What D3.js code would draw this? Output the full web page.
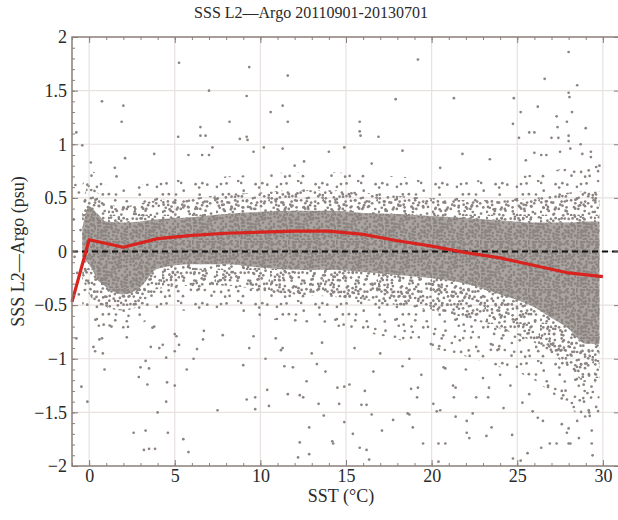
<!DOCTYPE html>
<html>
<head>
<meta charset="utf-8">
<script src="https://cdn.jsdelivr.net/npm/d3@7"></script>
<style>
  body { margin: 0; background: #fff; }
  svg { display: block; }
  text { font-family: "Liberation Serif", "DejaVu Serif", serif; }
</style>
</head>
<body>
<div id="chart"></div>
<script>
// SSS L2 - Argo differences vs SST

const titleText = "SSS L2\u2014Argo 20110901-20130701";
const xLabel = "SST (\u00b0C)";
const yLabel = "SSS L2\u2014Argo (psu)";

const xTicks = [0, 5, 10, 15, 20, 25, 30];
const yTicks = [-2, -1.5, -1, -0.5, 0, 0.5, 1, 1.5, 2];

// mean difference per SST bin (red line)
const meanSst  = [-1, 0, 2, 4, 6, 8, 10, 12, 14, 16, 18, 20, 22, 24, 26, 28, 30];
const meanDiff = [-0.47, 0.11, 0.04, 0.12, 0.15, 0.17, 0.18, 0.19, 0.19, 0.16, 0.10, 0.05, -0.01, -0.06, -0.13, -0.20, -0.235];

// envelope of the point cloud per SST bin (dense core / mid / outer halo)
const bandSst = [-0.4, 0, 0.5, 1, 2, 3, 4, 6, 8, 10, 12, 14, 16, 18, 20, 22, 24, 26, 27, 28, 29, 29.8];
const coreHi  = [0.22, 0.42, 0.35, 0.28, 0.27, 0.28, 0.30, 0.32, 0.35, 0.37, 0.38, 0.38, 0.36, 0.35, 0.33, 0.31, 0.29, 0.27, 0.27, 0.27, 0.28, 0.28];
const coreLo  = [-0.05, -0.12, -0.26, -0.33, -0.40, -0.33, -0.16, -0.12, -0.12, -0.15, -0.17, -0.17, -0.19, -0.22, -0.25, -0.30, -0.40, -0.52, -0.62, -0.72, -0.86, -0.86];
const midHi   = [0.45, 0.62, 0.55, 0.45, 0.42, 0.45, 0.48, 0.50, 0.53, 0.55, 0.57, 0.57, 0.55, 0.52, 0.50, 0.48, 0.48, 0.50, 0.52, 0.55, 0.56, 0.56];
const midLo   = [-0.25, -0.40, -0.48, -0.52, -0.55, -0.50, -0.35, -0.32, -0.32, -0.36, -0.40, -0.42, -0.45, -0.50, -0.55, -0.62, -0.72, -0.85, -0.95, -1.08, -1.22, -1.22];
const haloHi  = [0.62, 0.75, 0.72, 0.62, 0.58, 0.62, 0.65, 0.68, 0.70, 0.72, 0.74, 0.74, 0.72, 0.70, 0.68, 0.66, 0.68, 0.72, 0.75, 0.78, 0.80, 0.80];
const haloLo  = [-0.50, -0.62, -0.70, -0.72, -0.72, -0.68, -0.58, -0.55, -0.56, -0.62, -0.66, -0.70, -0.75, -0.82, -0.90, -0.98, -1.08, -1.20, -1.32, -1.45, -1.55, -1.55];

// isolated points outside the cloud [sst, diff]
const outliers = [
  [5.25, 1.76], [9.35, 1.72], [11.6, 1.64], [7.0, 1.50], [9.2, 1.45], [0.75, 1.40], [2.0, 1.36],
  [11.3, 1.36], [10.6, 1.30], [1.9, 1.21], [8.2, 1.21], [11.6, 1.21], [6.5, 1.16], [6.5, 1.08],
  [6.8, 1.08], [5.2, 1.07], [8.8, 1.05], [9.2, 1.07], [9.25, 1.04], [-0.75, 1.11], [-0.4, 0.99],
  [7.2, 0.97], [10.2, 0.97], [11.3, 0.96], [0.1, 0.83], [2.1, 0.87], [3.8, 0.91], [5.8, 0.90],
  [6.6, 0.90], [7.0, 0.90], [9.6, 0.93], [14.0, 0.93], [12.55, 0.84], [1.5, 0.78], [-0.8, 0.62],
  [-0.6, 0.55], [-0.9, 0.30], [-0.5, 0.20], [-0.7, -0.20], [-0.6, -0.40], [-0.85, -0.05],
  [19.2, 1.79], [28.0, 1.86], [26.6, 1.61], [28.5, 1.55], [17.9, 1.42], [21.3, 1.43], [24.8, 1.43],
  [28.0, 1.48], [28.05, 1.44], [26.2, 1.35], [25.2, 1.30], [28.2, 1.30], [15.8, 1.21], [15.8, 1.12],
  [15.85, 1.08], [16.9, 1.07], [24.75, 1.19], [25.7, 1.11], [26.0, 1.11], [27.3, 1.26], [27.35, 1.16],
  [25.1, 1.06], [27.0, 1.06], [27.4, 1.06], [27.9, 1.21], [29.0, 1.15], [28.0, 1.08], [28.0, 1.03],
  [14.9, 0.97], [18.3, 0.94], [21.8, 0.91], [28.7, 1.00], [28.1, 0.96], [26.0, 0.92], [26.4, 0.90],
  [26.7, 0.90], [27.5, 0.93], [28.8, 0.91], [29.3, 0.93], [29.3, 0.88], [29.8, 0.80], [23.4, 0.86],
  [-0.45, -1.26], [-0.1, -1.40], [-0.75, -0.81], [0.25, -0.89], [0.35, -0.93], [0.6, -0.82],
  [0.75, -0.81], [0.8, -0.95], [0.9, -1.10], [2.2, -0.80], [1.2, -0.69], [2.3, -0.60], [3.0, -1.08],
  [3.3, -1.02], [3.5, -1.09], [2.9, -1.17], [3.4, -1.24], [4.0, -1.50], [2.6, -1.69], [3.3, -1.67],
  [3.2, -1.85], [3.5, -1.84], [3.85, -1.84], [3.7, -0.71], [3.8, -0.70], [3.6, -0.89], [4.1, -0.90],
  [4.3, -0.87], [4.5, -0.99], [4.55, -1.22], [4.5, -1.40], [4.6, -1.69], [5.0, -0.77], [5.1, -0.79],
  [5.25, -0.87], [5.0, -0.93], [5.0, -1.25], [5.5, -1.75], [5.8, -1.87], [5.7, -1.10], [6.1, -1.00],
  [6.3, -0.91], [6.7, -0.74], [6.65, -0.82], [7.5, -1.48], [7.8, -0.78], [9.0, -1.06], [9.2, -1.38],
  [9.7, -1.36], [9.7, -1.47], [9.35, -0.90], [9.6, -0.79], [10.3, -1.00], [10.4, -1.29], [10.5, -1.44],
  [10.9, -0.81], [11.2, -0.92], [11.3, -0.90], [11.4, -1.07], [11.6, -1.33], [11.9, -1.08],
  [12.3, -1.34], [12.5, -1.36], [12.3, -1.78], [12.85, -1.64], [12.85, -1.89], [12.2, -1.92],
  [12.7, -1.21], [13.4, -1.42], [13.7, -1.53], [13.0, -0.95], [13.3, -1.05], [13.6, -0.85],
  [13.8, -1.12], [14.2, -1.77], [14.25, -1.79], [14.5, -1.27], [14.9, -1.26], [15.2, -1.24],
  [14.6, -1.42], [14.9, -1.59], [15.4, -1.70], [15.8, -1.83], [16.2, -1.85], [16.35, -1.94],
  [16.1, -1.30], [15.9, -1.43], [16.2, -1.43], [16.5, -1.52], [17.1, -1.67], [17.75, -1.57],
  [18.3, -1.07], [18.7, -1.00], [18.6, -1.51], [18.7, -1.52], [18.9, -1.64], [19.5, -1.79],
  [18.8, -1.28], [19.2, -1.27], [19.15, -1.36], [19.4, -1.15], [20.1, -1.42], [20.3, -1.49],
  [20.5, -1.48], [20.4, -1.79], [20.8, -1.79], [20.4, -1.96], [20.7, -1.08], [20.8, -1.09],
  [21.25, -1.25], [21.4, -1.27], [21.3, -1.36], [21.4, -1.54], [22.05, -1.58], [22.05, -1.69],
  [22.2, -1.74], [22.4, -1.51], [22.6, -1.36], [23.0, -1.18], [23.35, -1.27], [23.3, -1.36],
  [23.5, -1.64], [23.2, -1.72], [24.2, -1.46], [24.7, -1.71], [24.75, -1.93], [25.3, -1.41],
  [25.7, -1.33], [25.9, -1.49], [25.2, -1.95], [25.6, -1.88], [26.2, -1.55], [26.5, -1.58],
  [26.4, -1.83], [26.9, -1.79], [27.3, -1.79], [27.6, -1.61], [27.9, -1.69], [28.0, -1.65],
  [28.0, -1.79], [28.1, -1.79], [28.5, -1.58], [28.6, -1.74], [29.35, -1.79], [29.4, -1.90],
  [29.35, -1.67], [27.6, -1.30], [27.9, -1.38], [28.3, -1.45], [28.9, -1.40], [29.1, -1.32],
  [29.2, -1.50], [26.8, -1.25], [24.0, -1.15], [17.0, -0.95], [15.5, -0.90], [16.6, -1.12],
  [22.0, -1.10], [24.6, -1.25], [1.6, 0.70], [12.0, 0.80], [16.5, 0.82], [20.5, 0.78], [25.5, 0.85]
];

const width = 618;
const height = 520;
const margin = { top: 37, right: -2, bottom: 54, left: 72 };

const svg = d3.select("#chart")
  .append("svg")
  .attr("width", width)
  .attr("height", height);

const x = d3.scaleLinear()
  .domain([-1, 31])
  .range([margin.left, width - margin.right]);

const y = d3.scaleLinear()
  .domain([-2, 2])
  .range([height - margin.bottom, margin.top]);

const dotColor = "#8a8380";
const frameColor = "#8a7f7a";
const serif = "'Liberation Serif', 'DejaVu Serif', serif";

// speckle textures standing in for the dense cloud of individual points:
// a jittered grid inside each tile (hash-based offsets, purely a fill style)
const defs = svg.append("defs");
function jitter(i, k) {
  const s = Math.sin(i * 127.1 + k * 311.7) * 43758.5453;
  return s - Math.floor(s);
}
function speckle(id, size, cell, keep, bg) {
  const p = defs.append("pattern")
    .attr("id", id)
    .attr("patternUnits", "userSpaceOnUse")
    .attr("width", size)
    .attr("height", size);
  if (bg) p.append("rect").attr("width", size).attr("height", size).attr("fill", bg);
  const n = Math.round(size / cell);
  let idx = 0;
  for (let r = 0; r < n; r++) {
    for (let c = 0; c < n; c++) {
      idx++;
      if (jitter(idx, 3) > keep) continue;
      const cx = (c + 0.1 + 0.8 * jitter(idx, 1)) * cell;
      const cy = (r + 0.1 + 0.8 * jitter(idx, 2)) * cell;
      p.append("circle").attr("cx", cx).attr("cy", cy).attr("r", 1.35).attr("fill", dotColor);
    }
  }
}
speckle("core", 48, 3, 0.9, "#aaa4a1");
speckle("mid", 54, 4.2, 0.75, null);
speckle("halo", 60, 6, 0.55, null);

// grid
svg.append("g")
  .selectAll("line")
  .data(xTicks)
  .join("line")
  .attr("x1", d => x(d)).attr("x2", d => x(d))
  .attr("y1", y(2)).attr("y2", y(-2))
  .attr("stroke", "#e7e1e0")
  .attr("stroke-width", 1.2);

svg.append("g")
  .selectAll("line")
  .data(yTicks.slice(1, -1))
  .join("line")
  .attr("x1", x(-1)).attr("x2", x(31))
  .attr("y1", d => y(d)).attr("y2", d => y(d))
  .attr("stroke", "#e7e1e0")
  .attr("stroke-width", 1.2);

// point cloud bands
const bandRows = bandSst.map((s, i) => ({
  s, coreHi: coreHi[i], coreLo: coreLo[i], midHi: midHi[i], midLo: midLo[i],
  haloHi: haloHi[i], haloLo: haloLo[i]
}));

function band(hiKey, loKey) {
  return d3.area()
    .curve(d3.curveMonotoneX)
    .x(d => x(d.s))
    .y0(d => y(d[loKey]))
    .y1(d => y(d[hiKey]));
}

const cloud = svg.append("g");
cloud.append("path").datum(bandRows).attr("d", band("haloHi", "haloLo")).attr("fill", "url(#halo)");
cloud.append("path").datum(bandRows).attr("d", band("midHi", "midLo")).attr("fill", "url(#mid)");
cloud.append("path").datum(bandRows).attr("d", band("coreHi", "coreLo")).attr("fill", "url(#core)");

cloud.selectAll("circle")
  .data(outliers)
  .join("circle")
  .attr("cx", d => x(d[0]))
  .attr("cy", d => y(d[1]))
  .attr("r", 1.35)
  .attr("fill", dotColor);

// zero line
svg.append("line")
  .attr("x1", x(-1)).attr("x2", x(31))
  .attr("y1", y(0)).attr("y2", y(0))
  .attr("stroke", "#111")
  .attr("stroke-width", 2)
  .attr("stroke-dasharray", "6,4");

// mean line
const line = d3.line()
  .x((d, i) => x(meanSst[i]))
  .y(d => y(d));

svg.append("path")
  .datum(meanDiff)
  .attr("fill", "none")
  .attr("stroke", "#d8231f")
  .attr("stroke-width", 3.2)
  .attr("stroke-linejoin", "round")
  .attr("d", line);

// axes with inward ticks
const xMinor = d3.range(-1, 32, 1);
const yMinor = d3.range(-20, 21).map(v => v / 10);

function styleAxis(g) {
  g.attr("font-family", serif).attr("font-size", 18);
  g.select(".domain").remove();
  g.selectAll(".tick line").attr("stroke", frameColor).attr("stroke-width", 1);
  g.selectAll(".tick text")
    .attr("fill", "#2a2a2a")
    .attr("font-family", serif)
    .attr("font-size", 18);
}

const bottomY = y(-2);
const topY = y(2);
const leftX = x(-1);
const rightX = x(31);

svg.append("g").attr("transform", `translate(0,${bottomY})`)
  .call(d3.axisBottom(x).tickValues(xMinor).tickFormat("").tickSizeInner(-3).tickSizeOuter(0))
  .call(styleAxis);
svg.append("g").attr("transform", `translate(0,${bottomY})`)
  .call(d3.axisBottom(x).tickValues(xTicks).tickFormat(d3.format("d")).tickSizeInner(-6).tickSizeOuter(0).tickPadding(3))
  .call(styleAxis);
svg.append("g").attr("transform", `translate(0,${topY})`)
  .call(d3.axisTop(x).tickValues(xMinor).tickFormat("").tickSizeInner(-3).tickSizeOuter(0))
  .call(styleAxis);
svg.append("g").attr("transform", `translate(0,${topY})`)
  .call(d3.axisTop(x).tickValues(xTicks).tickFormat("").tickSizeInner(-6).tickSizeOuter(0))
  .call(styleAxis);

const yFmt = d => (d < 0 ? "\u2212" : "") + d3.format("~g")(Math.abs(d));
svg.append("g").attr("transform", `translate(${leftX},0)`)
  .call(d3.axisLeft(y).tickValues(yMinor).tickFormat("").tickSizeInner(-3).tickSizeOuter(0))
  .call(styleAxis);
svg.append("g").attr("transform", `translate(${leftX},0)`)
  .call(d3.axisLeft(y).tickValues(yTicks).tickFormat(yFmt).tickSizeInner(-6).tickSizeOuter(0).tickPadding(5))
  .call(styleAxis);
svg.append("g").attr("transform", `translate(${rightX},0)`)
  .call(d3.axisRight(y).tickValues(yTicks).tickFormat("").tickSizeInner(-6).tickSizeOuter(0))
  .call(styleAxis);

// frame
svg.append("rect")
  .attr("x", leftX)
  .attr("y", topY)
  .attr("width", rightX - leftX)
  .attr("height", bottomY - topY)
  .attr("fill", "none")
  .attr("stroke", frameColor)
  .attr("stroke-width", 1.5);

// titles
svg.append("text")
  .attr("x", 311)
  .attr("y", 18)
  .attr("text-anchor", "middle")
  .attr("fill", "#2a2a2a")
  .attr("font-family", serif)
  .attr("font-size", 16)
  .text(titleText);

svg.append("text")
  .attr("x", 341)
  .attr("y", 502)
  .attr("text-anchor", "middle")
  .attr("fill", "#2a2a2a")
  .attr("font-family", serif)
  .attr("font-size", 18)
  .text(xLabel);

svg.append("text")
  .attr("transform", `translate(24,${y(0)}) rotate(-90)`)
  .attr("text-anchor", "middle")
  .attr("fill", "#2a2a2a")
  .attr("font-family", serif)
  .attr("font-size", 18)
  .text(yLabel);
</script>
</body>
</html>
